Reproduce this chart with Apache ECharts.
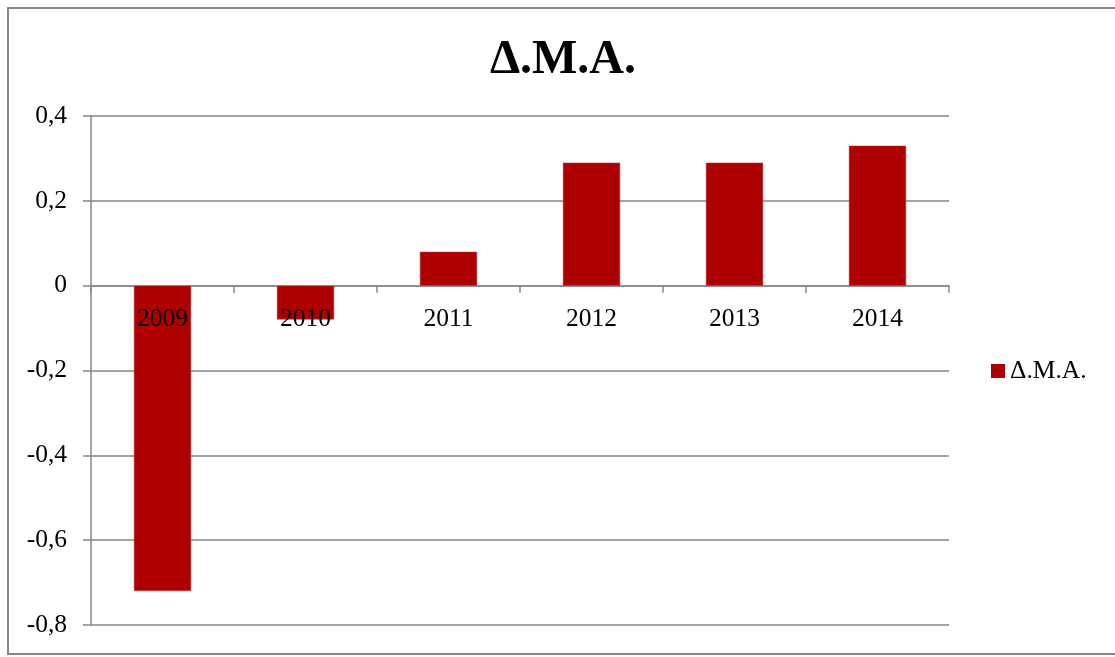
<!DOCTYPE html>
<html>
<head>
<meta charset="utf-8">
<script src="https://cdn.jsdelivr.net/npm/echarts@6/dist/echarts.min.js"></script>
<style>
  html, body { margin: 0; padding: 0; background: #fff; }
  #chart { width: 1115px; height: 657px; }
</style>
</head>
<body>
<div id="chart"></div>
<script>
// Yearly Δ.Μ.Α. values
const years = ['2009', '2010', '2011', '2012', '2013', '2014'];
const dmaValues = [-0.72, -0.08, 0.08, 0.29, 0.29, 0.33];
const seriesName = 'Δ.Μ.Α.';
const yMin = -0.8, yMax = 0.4, yStep = 0.2;

const FONT = '"Liberation Serif", "Times New Roman", serif';
const GRAY = '#868686';
const BAR = '#AE0000';
const W = 1115, H = 657;
const GRID = { left: 91, right: 166, top: 116, bottom: 32 };

// Distance from the bottom of the plot up to the zero line, so the
// year labels sit right under the zero axis.
const plotH = H - GRID.top - GRID.bottom;
const zeroFromBottom = plotH * (0 - yMin) / (yMax - yMin);

const chart = echarts.init(document.getElementById('chart'), null, { renderer: 'canvas' });

chart.setOption({
  backgroundColor: '#fff',
  animation: false,
  title: {
    text: seriesName,
    left: 558,
    top: 32,
    textAlign: 'center',
    textStyle: { fontFamily: FONT, fontSize: 48, fontWeight: 'bold', color: '#000' }
  },
  legend: {
    data: [seriesName],
    left: 991,
    top: 358,
    icon: 'rect',
    itemWidth: 14,
    itemHeight: 14,
    itemGap: 0,
    padding: 0,
    itemStyle: { borderWidth: 0 },
    textStyle: { fontFamily: FONT, fontSize: 25.5, color: '#000', padding: [2, 0, 0, 0] }
  },
  grid: Object.assign({ containLabel: false, outerBoundsMode: 'none' }, GRID),
  xAxis: [{
    type: 'category',
    data: years,
    boundaryGap: true,
    axisLine: { onZero: true, lineStyle: { color: GRAY, width: 1.5 } },
    axisTick: { show: true, length: 7, inside: false, alignWithLabel: false, lineStyle: { color: GRAY, width: 1.5 } },
    axisLabel: { show: false },
    splitLine: { show: false }
  }, {
    // label-only axis placed on the zero line
    type: 'category',
    data: years,
    position: 'bottom',
    offset: -zeroFromBottom,
    boundaryGap: true,
    axisLine: { show: false, onZero: false },
    axisTick: { show: false },
    axisLabel: { fontFamily: FONT, fontSize: 25.5, color: '#000', margin: 21 },
    splitLine: { show: false },
    z: 10
  }],
  yAxis: {
    type: 'value',
    min: yMin,
    max: yMax,
    interval: yStep,
    axisLine: { show: true, lineStyle: { color: GRAY, width: 1.5 } },
    axisTick: { show: true, length: 8, inside: false, lineStyle: { color: GRAY, width: 1.5 } },
    axisLabel: {
      fontFamily: FONT, fontSize: 25.5, color: '#000', margin: 24,
      formatter: v => String(+v.toFixed(1)).replace('.', ',')
    },
    splitLine: { show: true, lineStyle: { color: GRAY, width: 1.5 } }
  },
  series: [{
    name: seriesName,
    type: 'bar',
    xAxisIndex: 0,
    data: dmaValues,
    barWidth: '40%',
    itemStyle: { color: BAR, borderColor: '#C24040', borderWidth: 0.5 }
  }],
  graphic: [{
    type: 'rect',
    silent: true,
    z: 100,
    shape: { x: 8, y: 8, width: 1120, height: 646 },
    style: { fill: 'none', stroke: GRAY, lineWidth: 2 }
  }]
});
</script>
</body>
</html>
